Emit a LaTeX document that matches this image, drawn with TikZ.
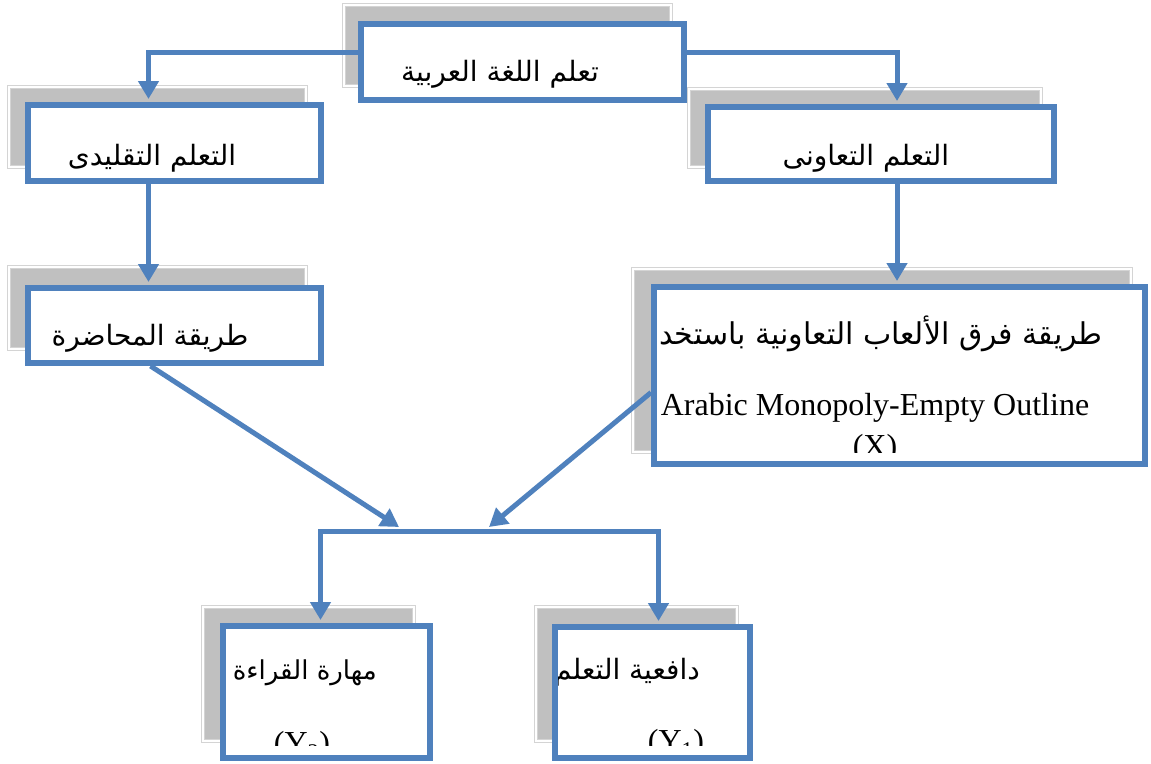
\documentclass[tikz,border=0pt]{standalone}
\usepackage{fontspec}
\setmainfont{Liberation Serif}
\newfontfamily\arabicfont[Script=Arabic]{DejaVu Sans}
\TeXXeTstate=1
\usetikzlibrary{arrows.meta}
\definecolor{boxblue}{HTML}{4F81BD}
\definecolor{shgray}{HTML}{C0C0C0}
\definecolor{shedge}{HTML}{D4D4D4}
\newcommand{\ar}[2][28]{{\arabicfont\fontsize{#1}{#1}\selectfont\beginR #2\endR}}
\tikzset{
  shadowbox/.style={rectangle, fill=shgray, draw=shedge, double=white, double distance=1.5pt, line width=1pt, inner sep=0pt},
  mainbox/.style={rectangle, fill=white, draw=boxblue, line width=6pt, inner sep=0pt},
  conn/.style={draw=boxblue, line width=5pt, -{Triangle[width=20pt,length=18pt]}, shorten >=3pt},
  diag/.style={draw=boxblue, line width=5pt, -{Triangle[width=20pt,length=18pt]}},
  lbl/.style={inner sep=0pt},
  latin/.style={inner sep=0pt, font=\fontsize{32}{36}\selectfont, anchor=base}
}
\begin{document}
\begin{tikzpicture}[x=1pt,y=-1pt]
\useasboundingbox (0,0) rectangle (1151,763);
% shadows
\node[shadowbox, minimum width=327pt, minimum height=81pt] (sT) at (507.5,45.5) {};
\node[shadowbox, minimum width=297pt, minimum height=80pt] (sL) at (157.5,127) {};
\node[shadowbox, minimum width=352pt, minimum height=78pt] (sR) at (865,128) {};
\node[shadowbox, minimum width=297pt, minimum height=82pt] (sL2) at (157.5,308) {};
\node[shadowbox, minimum width=498pt, minimum height=183pt] (sR2) at (882,360.5) {};
\node[shadowbox, minimum width=211pt, minimum height=134pt] (sY2) at (308.5,674) {};
\node[shadowbox, minimum width=201pt, minimum height=134pt] (sY1) at (636.5,674) {};
% main boxes
\node[mainbox, minimum width=323pt, minimum height=76pt] (T) at (522.5,62) {};
\node[mainbox, minimum width=293pt, minimum height=76pt] (L) at (174.5,143) {};
\node[mainbox, minimum width=346pt, minimum height=74pt] (R) at (881,144) {};
\node[mainbox, minimum width=293pt, minimum height=75pt] (L2) at (174.5,325.5) {};
\node[mainbox, minimum width=491pt, minimum height=177pt] (R2) at (899.5,375.5) {};
\node[mainbox, minimum width=207pt, minimum height=132pt] (Y2) at (326.5,692) {};
\node[mainbox, minimum width=195pt, minimum height=131pt] (Y1) at (652.5,692.5) {};
% texts
\node[lbl] (tT) at (500,74) {\ar{تعلم اللغة العربية}};
\node[lbl] (tL) at (152,158) {\ar{التعلم التقليدى}};
\node[lbl] (tR) at (866,158) {\ar{التعلم التعاونى}};
\node[lbl] (tL2) at (150,338) {\ar{طريقة المحاضرة}};
\begin{scope}
  \clip (657,290) rectangle (1142,452);
  \node[lbl, anchor=east] (tR2) at (1103,334) {\ar[30]{طريقة فرق الألعاب التعاونية باستخدام}};
  \node[latin] (tR2b) at (875,415) {Arabic Monopoly-Empty Outline};
  \node[latin] (tX) at (875,456) {(X)};
\end{scope}
\begin{scope}
  \clip (226,629) rectangle (427,745);
  \node[lbl, anchor=east] (tY2) at (377,673) {\ar[26]{مهارة القراءة}};
  \node[latin] (tY2b) at (302,753) {(Y\textsubscript{2})};
\end{scope}
\begin{scope}
  \clip (558,630) rectangle (747,745);
  \node[lbl, anchor=east] (tY1) at (700,672) {\ar{دافعية التعلم}};
  \node[latin] (tY1b) at (676,751) {(Y\textsubscript{1})};
\end{scope}
% connectors
\coordinate (m1) at (399,527);
\coordinate (m2) at (489,527);
\coordinate (bar) at (490,531);
\draw[conn] ([yshift=10pt]T.west) -| ([xshift=-26pt]L.north);
\draw[conn] ([yshift=10pt]T.east) -| ([xshift=16pt]R.north);
\draw[conn] ([xshift=-26pt]L.south) -- ([xshift=-26pt]L2.north);
\draw[conn] ([xshift=16pt]R.south) -- ([xshift=-2.5pt]R2.north);
\draw[diag] ([xshift=-24pt]L2.south) -- (m1);
\draw[diag] ([yshift=-17pt]R2.west) -- (m2);
\draw[conn] (bar) -| ([xshift=-6pt]Y2.north);
\draw[conn] (bar) -| ([xshift=6pt]Y1.north);
\end{tikzpicture}
\end{document}
